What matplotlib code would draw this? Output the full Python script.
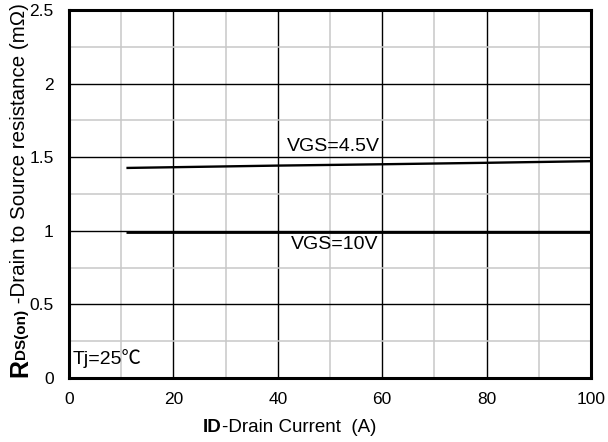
import matplotlib.pyplot as plt
from matplotlib.ticker import MultipleLocator

plt.rcParams['font.family'] = ['Liberation Sans', 'DejaVu Sans']

# drain current (A) and on-resistance (mOhm)
id_a = [11, 40, 60, 80, 100]
rds_vgs45 = [1.427, 1.443, 1.452, 1.462, 1.473]
rds_vgs10 = [0.994, 0.994, 0.994, 0.994, 0.994]

W, H = 608, 442
fig = plt.figure(figsize=(W / 100, H / 100), dpi=100)
ax = fig.add_axes([69 / W, 64 / H, 522 / W, 368 / H])

ax.plot(id_a, rds_vgs45, color='black', linewidth=1.7, solid_capstyle='butt')
ax.plot(id_a, rds_vgs10, color='black', linewidth=2.0, solid_capstyle='butt')

ax.set_xlim(0, 100)
ax.set_ylim(0, 2.5)
ax.xaxis.set_major_locator(MultipleLocator(20))
ax.xaxis.set_minor_locator(MultipleLocator(10))
ax.yaxis.set_minor_locator(MultipleLocator(0.25))
ax.set_yticks([0, 0.5, 1, 1.5, 2, 2.5], ['0', '0.5', '1', '1.5', '2', '2.5'])

ax.grid(which='minor', color='#c8c8c8', linewidth=1.1)
ax.grid(which='major', color='black', linewidth=1.0)
ax.set_axisbelow(True)
ax.tick_params(which='both', length=0, labelsize=12.5)
ax.tick_params(axis='x', pad=10)
ax.tick_params(axis='y', pad=11)
for s in ax.spines.values():
    s.set_linewidth(2.2)

ax.text(41.8, 1.515, 'VGS=4.5V', fontsize=14, ha='left', va='bottom')
ax.text(42.6, 0.905, 'VGS=10V', fontsize=14, ha='left', va='center')
ax.text(0.75, 0.135, 'Tj=25\u2103', fontsize=14, ha='left', va='center',
        family=['Liberation Sans', 'Noto Sans CJK SC'])

# x axis title: bold "ID" followed by regular text
xl = fig.text(203 / W, 1 - 427 / H, 'ID', fontsize=13.5, fontweight='bold',
              ha='left', va='center')
ax.annotate('-Drain Current  (A)', xy=(1, 0), xycoords=xl, fontsize=13.5,
            ha='left', va='bottom', annotation_clip=False)

# y axis title: large "R", small bold "DS(on)" centred on it, then regular text
yr = fig.text(8 / W, 1 - 377 / H, 'R', fontsize=18, fontweight='bold',
              rotation=90, ha='left', va='bottom')
yds = ax.annotate('DS(on)', xy=(0.5, 1), xycoords=yr, xytext=(1, 0),
                  textcoords='offset points', fontsize=11, fontweight='bold',
                  rotation=90, ha='center', va='bottom', annotation_clip=False)
ax.annotate(' -Drain to Source resistance (m\u03a9)', xy=(0.5, 1), xycoords=yds,
            xytext=(-1, 0), textcoords='offset points', fontsize=14.8,
            rotation=90, ha='center', va='bottom', annotation_clip=False)

fig.savefig('out.png', dpi=100)
